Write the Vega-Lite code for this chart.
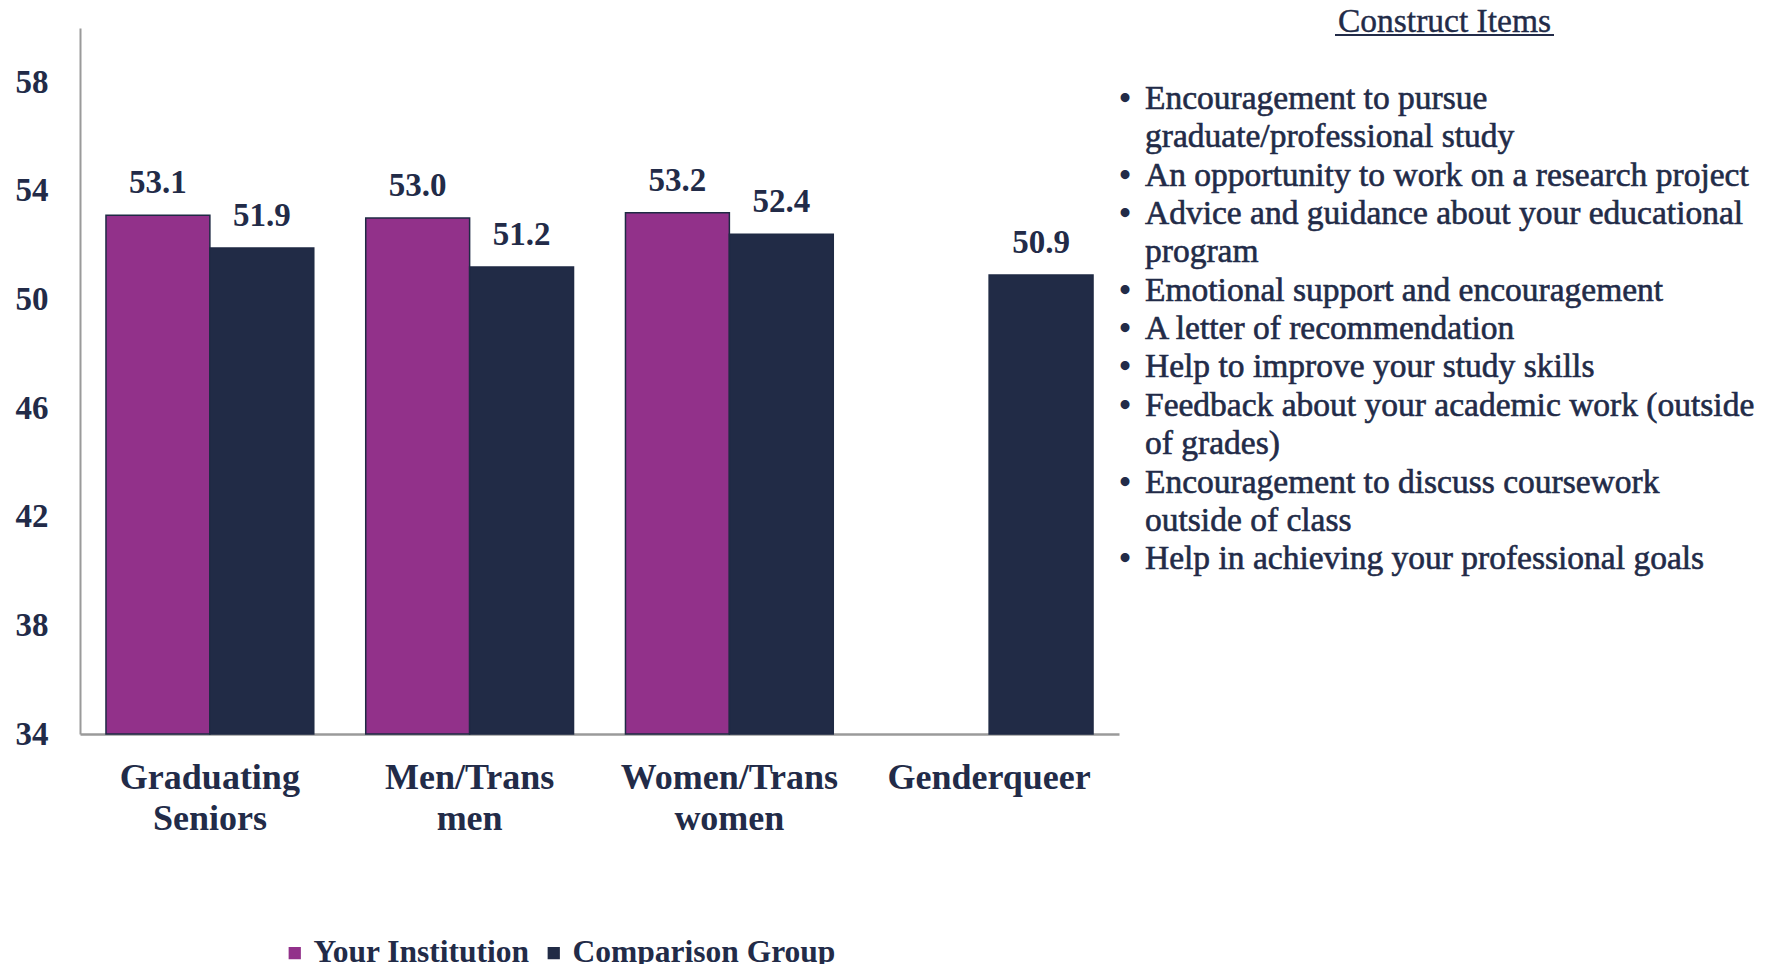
{
  "$schema": "https://vega.github.io/schema/vega-lite/v6.json",
  "width": 1039,
  "height": 706,
  "autosize": {"type": "none"},
  "padding": {"left": 80, "top": 28, "right": 656, "bottom": 230},
  "background": "white",
  "config": {
    "view": {"stroke": null},
    "font": "Liberation Serif",
    "text": {"font": "Liberation Serif", "color": "#222B48"}
  },
  "layer": [
    {
      "data": {
        "values": [
          {"group": "Graduating Seniors", "series": "Your Institution", "value": 53.1},
          {"group": "Graduating Seniors", "series": "Comparison Group", "value": 51.9},
          {"group": "Men/Trans men", "series": "Your Institution", "value": 53.0},
          {"group": "Men/Trans men", "series": "Comparison Group", "value": 51.2},
          {"group": "Women/Trans women", "series": "Your Institution", "value": 53.2},
          {"group": "Women/Trans women", "series": "Comparison Group", "value": 52.4},
          {"group": "Genderqueer", "series": "Your Institution", "value": null},
          {"group": "Genderqueer", "series": "Comparison Group", "value": 50.9}
        ]
      },
      "encoding": {
        "x": {
          "field": "group",
          "type": "nominal",
          "sort": ["Graduating Seniors", "Men/Trans men", "Women/Trans women", "Genderqueer"],
          "scale": {"paddingInner": 0.2, "paddingOuter": 0.1},
          "axis": {
            "title": null,
            "labelAngle": 0,
            "labelExpr": "split(datum.label, ' ')",
            "labelFont": "Liberation Serif",
            "labelFontSize": 36,
            "labelFontWeight": "bold",
            "labelLineHeight": 41,
            "labelColor": "#222B48",
            "labelPadding": 26,
            "labelBaseline": "top",
            "labelLimit": 0,
            "ticks": false,
            "domainColor": "#9a9a9a",
            "domainWidth": 2.5
          }
        },
        "xOffset": {
          "field": "series",
          "type": "nominal",
          "sort": ["Your Institution", "Comparison Group"],
          "scale": {"paddingInner": 0, "paddingOuter": 0}
        },
        "y": {
          "field": "value",
          "type": "quantitative",
          "scale": {"domain": [34, 60], "zero": false, "nice": false},
          "axis": {
            "title": null,
            "values": [34, 38, 42, 46, 50, 54, 58],
            "grid": false,
            "ticks": false,
            "labelFont": "Liberation Serif",
            "labelFontSize": 33,
            "labelFontWeight": "bold",
            "labelColor": "#222B48",
            "labelPadding": 32,
            "domainColor": "#9a9a9a",
            "domainWidth": 2
          }
        }
      },
      "layer": [
        {
          "mark": {"type": "bar", "stroke": "#1F2A44", "strokeWidth": 1.5},
          "encoding": {
            "y2": {"datum": 34},
            "color": {
              "field": "series",
              "type": "nominal",
              "scale": {"domain": ["Your Institution", "Comparison Group"], "range": ["#92318A", "#212B46"]},
              "legend": {
                "title": null,
                "orient": "none",
                "direction": "horizontal",
                "legendX": 199,
                "legendY": 909,
                "padding": 0,
                "symbolType": "square",
                "symbolSize": 150,
                "symbolStrokeWidth": 0,
                "labelFont": "Liberation Serif",
                "labelFontSize": 31.5,
                "labelFontWeight": "bold",
                "labelColor": "#222B48",
                "labelOffset": 3,
                "labelLimit": 0,
                "columnPadding": 8
              }
            }
          }
        },
        {
          "mark": {"type": "text", "baseline": "alphabetic", "dy": -22, "fontSize": 33, "fontWeight": "bold"},
          "encoding": {
            "text": {"field": "value", "type": "quantitative", "format": ".1f"}
          }
        }
      ]
    },
    {
      "layer": [
        {
          "data": {
            "values": [
              {"line": 0, "bullet": true, "text": "Encouragement to pursue"},
              {"line": 1, "bullet": false, "text": "graduate/professional study"},
              {"line": 2, "bullet": true, "text": "An opportunity to work on a research project"},
              {"line": 3, "bullet": true, "text": "Advice and guidance about your educational"},
              {"line": 4, "bullet": false, "text": "program"},
              {"line": 5, "bullet": true, "text": "Emotional support and encouragement"},
              {"line": 6, "bullet": true, "text": "A letter of recommendation"},
              {"line": 7, "bullet": true, "text": "Help to improve your study skills"},
              {"line": 8, "bullet": true, "text": "Feedback about your academic work (outside"},
              {"line": 9, "bullet": false, "text": "of grades)"},
              {"line": 10, "bullet": true, "text": "Encouragement to discuss coursework"},
              {"line": 11, "bullet": false, "text": "outside of class"},
              {"line": 12, "bullet": true, "text": "Help in achieving your professional goals"}
            ]
          },
          "encoding": {
            "y": {
              "field": "line",
              "type": "quantitative",
              "scale": {"domain": [-2.112, 16.297], "reverse": true, "zero": false, "nice": false},
              "axis": null
            }
          },
          "layer": [
            {
              "mark": {"type": "text", "align": "left", "baseline": "alphabetic", "fontSize": 33.5, "stroke": "#222B48", "strokeWidth": 0.6},
              "encoding": {
                "x": {"datum": 1, "type": "quantitative", "scale": {"domain": [-52.25, -0.3], "zero": false, "nice": false}, "axis": null},
                "text": {"field": "text"}
              }
            },
            {
              "transform": [{"filter": "datum.bullet"}],
              "mark": {"type": "text", "align": "center", "baseline": "alphabetic", "fontSize": 33, "fontWeight": "bold"},
              "encoding": {
                "x": {"datum": 0, "type": "quantitative"},
                "text": {"value": "•"}
              }
            }
          ]
        },
        {
          "data": {"values": [{"title": "Construct Items"}]},
          "layer": [
            {
              "mark": {"type": "text", "align": "center", "baseline": "alphabetic", "fontSize": 33.5, "stroke": "#222B48", "strokeWidth": 0.4},
              "encoding": {
                "x": {"datum": 15.975, "type": "quantitative"},
                "y": {"datum": -2.0, "type": "quantitative"},
                "text": {"field": "title"}
              }
            },
            {
              "mark": {"type": "rule", "color": "#222B48", "strokeWidth": 2},
              "encoding": {
                "x": {"datum": 10.5, "type": "quantitative"},
                "x2": {"datum": 21.45},
                "y": {"datum": -1.93, "type": "quantitative"}
              }
            }
          ]
        }
      ]
    }
  ],
  "resolve": {"scale": {"x": "independent", "y": "independent"}}
}
